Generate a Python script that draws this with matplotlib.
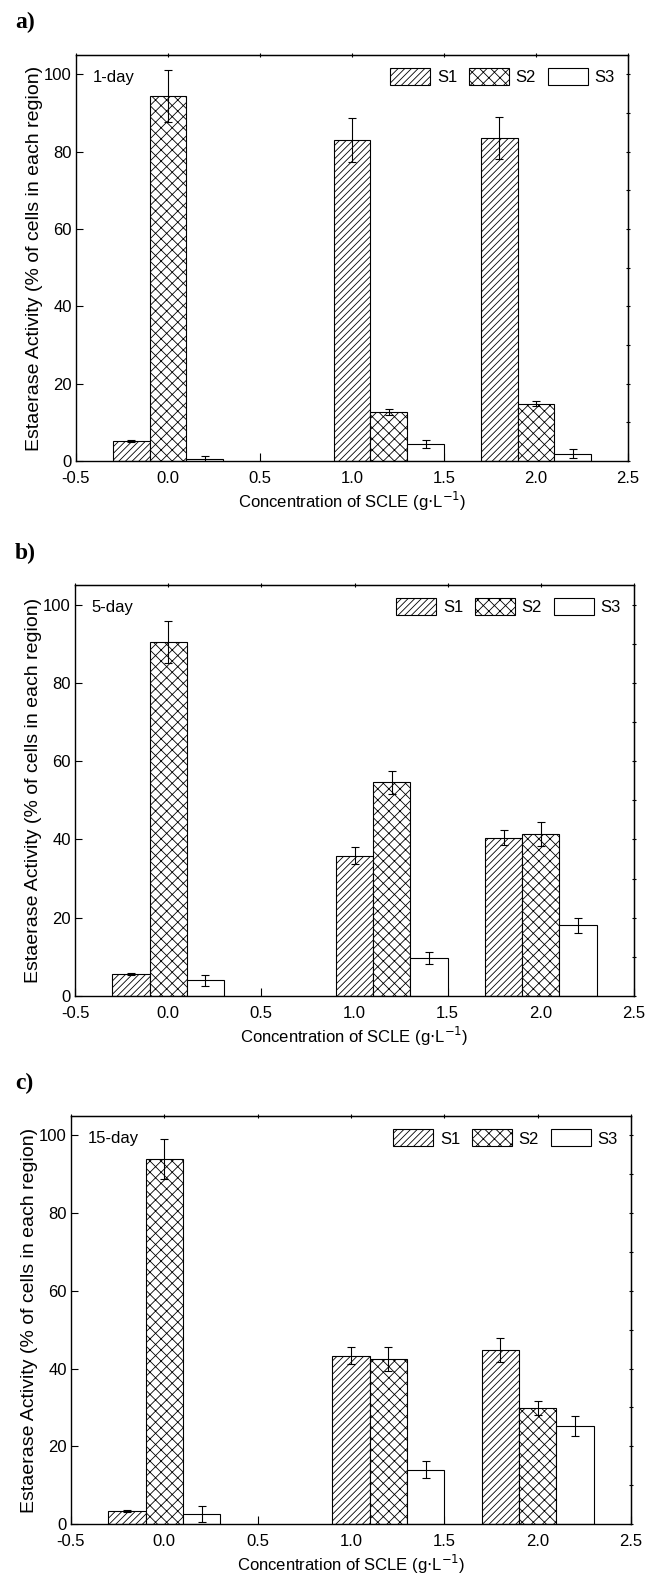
# -*- coding: utf-8 -*-
"""
Esterase activity of cells (S1/S2/S3 regions) vs SCLE concentration,
three panels for 1-day, 5-day and 15-day exposure.
"""

import matplotlib
matplotlib.use('Agg')
import matplotlib.pyplot as plt
import numpy as np

plt.rcParams['font.family'] = ['Liberation Sans', 'DejaVu Sans']
plt.rcParams['hatch.linewidth'] = 0.6

#%% Data

conc = [0.0, 1.2, 2.0]          # group centres (S2 bar position)
series = ['S1', 'S2', 'S3']
hatches = ['/////', 'xxx', '']
days = ['1-day', '5-day', '15-day']
panel_tags = ['a)', 'b)', 'c)']

# 1-day
s1_d1 = [5.2, 83.1, 83.5]
s1_d1_err = [0.3, 5.7, 5.5]
s2_d1 = [94.4, 12.7, 14.8]
s2_d1_err = [6.6, 0.8, 0.7]
s3_d1 = [0.5, 4.4, 1.9]
s3_d1_err = [0.9, 1.0, 1.2]

# 5-day
s1_d5 = [5.7, 35.8, 40.4]
s1_d5_err = [0.3, 2.2, 1.9]
s2_d5 = [90.4, 54.6, 41.4]
s2_d5_err = [5.3, 3.0, 3.1]
s3_d5 = [4.0, 9.7, 18.1]
s3_d5_err = [1.4, 1.5, 1.9]

# 15-day
s1_d15 = [3.3, 43.3, 44.7]
s1_d15_err = [0.2, 2.2, 3.1]
s2_d15 = [93.9, 42.5, 29.8]
s2_d15_err = [5.1, 3.1, 1.8]
s3_d15 = [2.6, 14.0, 25.2]
s3_d15_err = [2.0, 2.2, 2.5]

panels = [
    ([s1_d1, s2_d1, s3_d1], [s1_d1_err, s2_d1_err, s3_d1_err]),
    ([s1_d5, s2_d5, s3_d5], [s1_d5_err, s2_d5_err, s3_d5_err]),
    ([s1_d15, s2_d15, s3_d15], [s1_d15_err, s2_d15_err, s3_d15_err]),
]

#%% Plot

W, H = 659, 1582
fig = plt.figure(figsize=(W / 100, H / 100), dpi=100)

# axes boxes in pixels: left, top, right, bottom
boxes = [(76, 55, 628, 461), (75, 585, 634, 996), (71, 1116, 631, 1524)]
tag_y = [22, 553, 1083]

bw = 0.2
for i, ((vals, errs), box) in enumerate(zip(panels, boxes)):
    l, t, r, b = box
    ax = fig.add_axes([l / W, 1 - b / H, (r - l) / W, (b - t) / H])
    x = np.array(conc)
    for j, name in enumerate(series):
        xpos = x + (j - 1) * bw
        ax.bar(xpos, vals[j], width=bw, color='white', edgecolor='black',
               linewidth=0.8, hatch=hatches[j], label=name, zorder=2)
        ax.errorbar(xpos, vals[j], yerr=errs[j], fmt='none', ecolor='black',
                    elinewidth=0.8, capsize=3, capthick=0.8, zorder=3)

    ax.set_xlim(-0.5, 2.5)
    ax.set_ylim(0, 105)
    ax.set_xticks(np.arange(-0.5, 2.51, 0.5))
    ax.set_xticklabels(['{0:.1f}'.format(v) for v in np.arange(-0.5, 2.51, 0.5)])
    ax.set_yticks(np.arange(0, 101, 20))
    ax.tick_params(axis='both', direction='in', labelsize=12, width=0.8)
    ax.tick_params(axis='x', length=6, pad=7)
    ax.tick_params(axis='y', length=5, pad=3)
    for s in ax.spines.values():
        s.set_linewidth(1.0)

    # small ticks on top and right spines
    sec_x = ax.secondary_xaxis('top')
    sec_x.set_xticks(np.arange(-0.5, 2.51, 0.5))
    sec_x.tick_params(direction='inout', length=3, width=0.8, labeltop=False)
    sec_y = ax.secondary_yaxis('right')
    sec_y.set_yticks(np.arange(0, 101, 10))
    sec_y.tick_params(direction='inout', length=3, width=0.8, labelright=False)

    ax.set_xlabel('Concentration of SCLE (g$\\cdot$L$^{-1}$)', fontsize=12, labelpad=3)
    ax.set_ylabel('Estaerase Activity (% of cells in each region)', fontsize=14, labelpad=1)
    ax.text(0.03, 0.945, days[i], transform=ax.transAxes, fontsize=12,
            va='center', ha='left')
    ax.legend(loc='upper right', ncol=3, frameon=False, fontsize=12,
              handlelength=2.4, handleheight=1.2, handletextpad=0.4,
              columnspacing=0.7, borderaxespad=0.4)

    fig.text(15 / W, 1 - tag_y[i] / H, panel_tags[i], fontsize=17,
             fontweight='bold', family='Liberation Serif', va='center', ha='left')

fig.savefig('out.png', dpi=100)
